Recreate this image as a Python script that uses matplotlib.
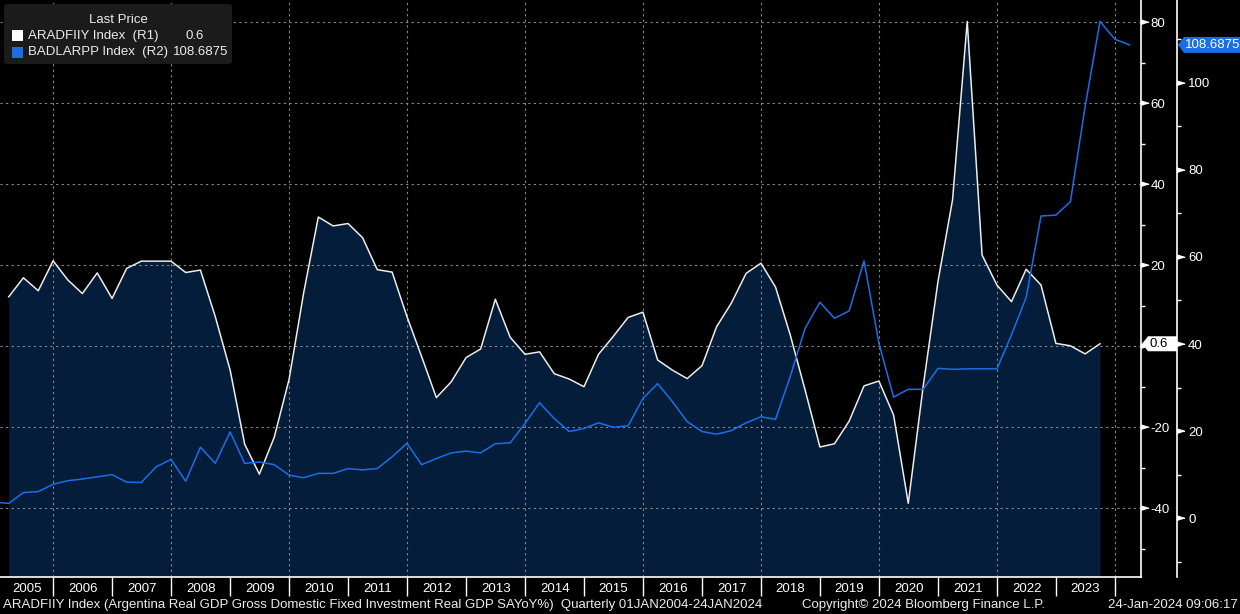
import numpy as np
import pandas as pd
import matplotlib
matplotlib.use("Agg")
import matplotlib.pyplot as plt
from matplotlib.patches import Polygon, FancyBboxPatch, Rectangle
from matplotlib.ticker import MultipleLocator, FuncFormatter

plt.rcParams['font.family'] = ['Liberation Sans', 'DejaVu Sans']
plt.rcParams['axes.unicode_minus'] = False

# ARADFIIY Index (R1), quarterly YoY %, first quarter Q1 2005
gfcf_start = '2005-03-31'
gfcf_yoy = [12.2, 16.9, 13.7, 21.1,
            16.4, 13.0, 18.1, 11.8,
            19.2, 21.0, 21.0, 21.0,
            18.2, 18.8, 7.3, -5.9,
            -24.2, -31.6, -22.5, -8.2,
            13.1, 31.9, 29.7, 30.3,
            26.8, 18.9, 18.3, 7.3,
            -2.6, -12.7, -8.8, -2.8,
            -0.7, 11.6, 2.2, -2.0,
            -1.4, -6.8, -8.1, -10.0,
            -2.0, 2.4, 7.1, 8.4,
            -3.4, -5.9, -8.0, -4.8,
            4.8, 10.6, 18.0, 20.5,
            14.6, 2.8, -10.8, -24.9,
            -24.1, -18.5, -9.8, -8.6,
            -17.0, -38.8, -10.0, 16.0,
            36.1, 80.2, 22.5, 15.1,
            11.0, 19.0, 15.1, 0.7,
            0.1, -1.9, 0.6]

# BADLARPP Index (R2), first quarter Q4 2004
badlar_start = '2004-12-31'
badlar = [3.7,
          3.4, 5.9, 6.1, 7.8,
          8.6, 9.0, 9.5, 10.0,
          8.3, 8.2, 11.8, 13.5,
          8.5, 16.3, 12.6, 19.8,
          12.6, 12.9, 12.3, 9.9,
          9.3, 10.3, 10.3, 11.4,
          11.1, 11.4, 14.1, 17.2,
          12.3, 13.7, 15.0, 15.4,
          15.0, 17.1, 17.3, 21.8,
          26.5, 22.9, 19.9, 20.6,
          21.9, 20.9, 21.2, 27.5,
          30.9, 26.8, 22.2, 19.9,
          19.3, 20.1, 21.9, 23.3,
          22.7, 32.5, 43.6, 49.6,
          45.9, 47.6, 59.1, 40.2,
          27.8, 29.6, 29.6, 34.4,
          34.2, 34.3, 34.3, 34.3,
          42.1, 50.7, 69.4, 69.6,
          72.7, 94.5, 114.1, 110.0,
          108.6875]

year_labels = [str(y) for y in range(2005, 2024)]
r1_ticks = [-40, -20, 0, 20, 40, 60, 80]
r2_ticks = [0, 20, 40, 60, 80, 100]
last_gfcf = '0.6'
last_badlar = '108.6875'

FILL = '#031d3b'
WHITE = '#ececec'
BLUE = '#1a6fe6'
GRID = '#8a8a8a'
W, H = 1240, 614
FS = 9.5


def px(x, y):
    # pixel coords (top-left origin) -> figure fraction
    return x / W, 1 - y / H


def tag(fig, x_tip, x_end, y, half, text, fc, tc):
    # y is in pixels from the top
    pts = [(x_tip, y), (x_tip + 6, y - half), (x_end, y - half),
           (x_end, y + half), (x_tip + 6, y + half)]
    fig.patches.append(Polygon([px(a, b) for a, b in pts], closed=True,
                               transform=fig.transFigure, fc=fc, ec='none'))
    fig.text(*px(x_tip + 7, y), text, color=tc, fontsize=FS,
             va='center', ha='left')


gfcf_dates = pd.date_range(gfcf_start, periods=len(gfcf_yoy), freq=pd.offsets.QuarterEnd())
badlar_dates = pd.date_range(badlar_start, periods=len(badlar), freq=pd.offsets.QuarterEnd())

fig = plt.figure(figsize=(W / 100, H / 100), dpi=100, facecolor='black')
ax = fig.add_axes([0, 37 / H, 1141 / W, 577 / H])
ax.set_facecolor('black')

r1_lo, r1_hi = -57, 85.5
ax.fill_between(gfcf_dates, gfcf_yoy, r1_lo, color=FILL, lw=0, zorder=1)
ax.plot(gfcf_dates, gfcf_yoy, color=WHITE, lw=1.1, zorder=3)
ax.set_ylim(r1_lo, r1_hi)

x0 = pd.Timestamp('2006-01-01') - pd.Timedelta(days=330)
x1 = pd.Timestamp('2006-01-01') + pd.Timedelta(days=6735)
ax.set_xlim(x0, x1)

ax2 = ax.twinx()
ax2.plot(badlar_dates, badlar, color=BLUE, lw=1.1, zorder=3)
ax2.set_ylim(-13.5, 119)
ax2.set_xlim(x0, x1)

# grid
ax.set_yticks(r1_ticks)
ax.yaxis.grid(True, color=GRID, ls=(0, (2, 3)), lw=0.8)
grid_years = [pd.Timestamp(f'{y}-01-01') for y in range(2006, 2025, 2)]
ax.vlines(grid_years, 0, 1, transform=ax.get_xaxis_transform(), colors=GRID,
          linestyles=(0, (2, 3)), lw=0.8, zorder=2)

# x axis: year labels between separators
bounds = [pd.Timestamp(f'{y}-01-01') for y in range(2006, 2025)]
mids = [x0 + (bounds[0] - x0) / 2] + [bounds[i] + (bounds[i + 1] - bounds[i]) / 2
                                      for i in range(len(bounds) - 1)]
ax.set_xticks(mids, year_labels)
ax.set_xticks(bounds, minor=True)
ax.tick_params(axis='x', which='major', length=0, pad=4, labelcolor='white', labelsize=FS)
ax.tick_params(axis='x', which='minor', length=14, width=1, color='white', direction='out')

# R1 axis sits on the right edge of the plot; its 0 label is under the last price tag
ax.yaxis.tick_right()
ax.yaxis.set_major_formatter(FuncFormatter(lambda v, p: '' if v == 0 else f'{v:.0f}'))
ax.yaxis.set_minor_locator(MultipleLocator(10))
ax.tick_params(axis='y', which='major', length=0, pad=7, labelcolor='white', labelsize=FS)
ax.tick_params(axis='y', which='minor', length=3, width=1, color='white', direction='out')
for s in ['top', 'left']:
    ax.spines[s].set_visible(False)
for s in ['right', 'bottom']:
    ax.spines[s].set_color('white')
    ax.spines[s].set_linewidth(1.2)

r2_pos = 1177 / 1141
for s in ['top', 'left', 'bottom']:
    ax2.spines[s].set_visible(False)
ax2.spines['right'].set_position(('axes', r2_pos))
ax2.spines['right'].set_color('white')
ax2.spines['right'].set_linewidth(1.2)
ax2.set_yticks(r2_ticks)
ax2.yaxis.set_minor_locator(MultipleLocator(10))
ax2.tick_params(axis='y', which='major', length=0, pad=8, labelcolor='white', labelsize=FS)
ax2.tick_params(axis='y', which='minor', length=3, width=1, color='white', direction='out')

# flag markers on major ticks
flag = [(0, -0.3), (0, 0.3), (1, 0)]
ax.plot(np.ones(len(r1_ticks)), r1_ticks, transform=ax.get_yaxis_transform(),
        marker=flag, ms=11, ls='none', color='white', clip_on=False, zorder=5)
ax2.plot(np.full(len(r2_ticks), r2_pos), r2_ticks, transform=ax2.get_yaxis_transform(),
         marker=flag, ms=11, ls='none', color='white', clip_on=False, zorder=5)

# last price tags
y1 = ax.transData.transform((0, float(last_gfcf)))[1]
y2 = ax2.transData.transform((0, badlar[-1]))[1]
tag(fig, 1142, 1177, H - y1, 7.5, last_gfcf, 'white', 'black')
tag(fig, 1178, 1240, H - y2, 8, last_badlar, BLUE, 'white')

# legend box
fig.patches.append(FancyBboxPatch(px(4, 64), 228 / W, 60 / H, transform=fig.transFigure,
                                  boxstyle='round,pad=0,rounding_size=0.004',
                                  fc='#1b1b1b', ec='none'))
fig.text(*px(118, 20), 'Last Price', color=WHITE, fontsize=FS, ha='center', va='center')
fig.patches.append(Rectangle(px(12, 41), 11 / W, 11 / H, transform=fig.transFigure,
                             fc='white', ec='none'))
fig.patches.append(Rectangle(px(12, 58), 11 / W, 11 / H, transform=fig.transFigure,
                             fc=BLUE, ec='none'))
fig.text(*px(28, 36), 'ARADFIIY Index  (R1)', color=WHITE, fontsize=FS, va='center')
fig.text(*px(186, 36), last_gfcf, color=WHITE, fontsize=FS, va='center')
fig.text(*px(28, 52), 'BADLARPP Index  (R2)', color=WHITE, fontsize=FS, va='center')
fig.text(*px(173, 52), last_badlar, color=WHITE, fontsize=FS, va='center')

# footer
fig.text(*px(3, 605), 'ARADFIIY Index (Argentina Real GDP Gross Domestic Fixed Investment '
         'Real GDP SAYoY%)  Quarterly 01JAN2004-24JAN2024', color=WHITE, fontsize=FS, va='center')
fig.text(*px(802, 605), 'Copyright\u00a9 2024 Bloomberg Finance L.P.', color=WHITE,
         fontsize=FS, va='center')
fig.text(*px(1238, 605), '24-Jan-2024 09:06:17', color=WHITE, fontsize=FS,
         va='center', ha='right')

fig.savefig('out.png', dpi=100, facecolor='black')
